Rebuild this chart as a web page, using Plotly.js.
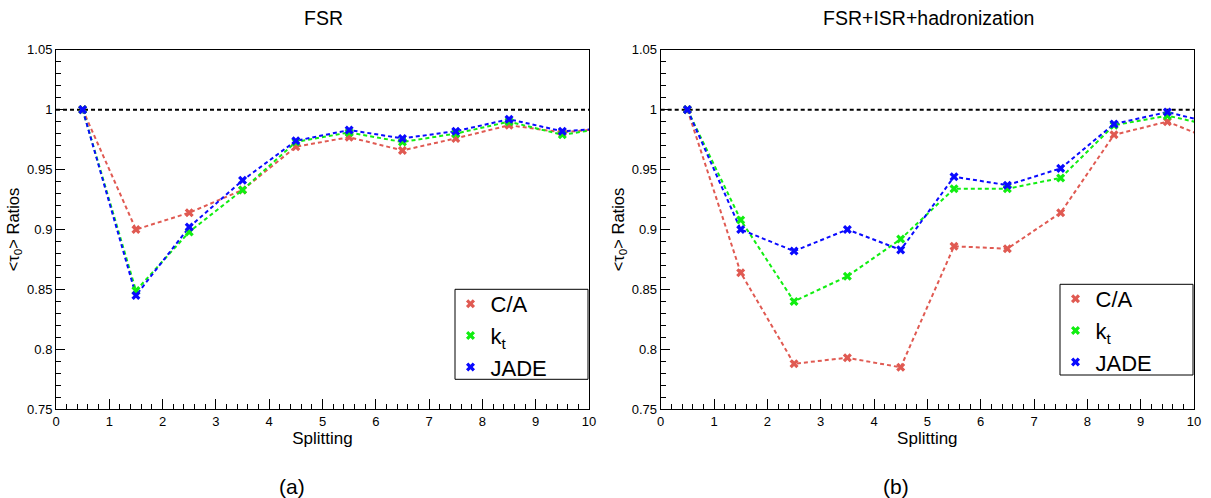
<!DOCTYPE html>
<html>
<head>
<meta charset="utf-8">
<script src="https://cdn.plot.ly/plotly-3.0.1.min.js"></script>
<style>html,body{margin:0;padding:0;background:#fff}#chart{width:1211px;height:498px}</style>
</head>
<body>
<div id="chart"></div>
<script>
// ---- data ----
const splitting = [0.5, 1.5, 2.5, 3.5, 4.5, 5.5, 6.5, 7.5, 8.5, 9.5, 10.5];

const seriesNames = ["C/A", "k<sub>t</sub>", "JADE"];

// (a) FSR
const fsrCA   = [1, 0.900, 0.914, 0.933, 0.969, 0.977, 0.966, 0.976, 0.987, 0.981, 0.985];
const fsrKt   = [1, 0.849, 0.898, 0.933, 0.973, 0.981, 0.973, 0.980, 0.990, 0.979, 0.986];
const fsrJADE = [1, 0.845, 0.902, 0.941, 0.974, 0.983, 0.976, 0.982, 0.992, 0.982, 0.985];

// (b) FSR+ISR+hadronization
const fullCA   = [1, 0.864, 0.788, 0.793, 0.785, 0.886, 0.884, 0.914, 0.979, 0.990, 0.972];
const fullKt   = [1, 0.908, 0.840, 0.861, 0.892, 0.934, 0.934, 0.943, 0.987, 0.995, 0.985];
const fullJADE = [1, 0.900, 0.882, 0.900, 0.883, 0.944, 0.937, 0.951, 0.988, 0.998, 0.987];

const panelTitles = ["FSR", "FSR+ISR+hadronization"];
const panelLabels = ["(a)", "(b)"];
const xTitle = "Splitting";
const yTitle = "&lt;τ<sub>0</sub>&gt; Ratios";
const xRange = [0, 10];
const yRange = [0.75, 1.05];
const referenceLevel = [1, 1];

// ---- styling ----
const colors = ["#e05a52", "#11ee11", "#0a0aff"];
const FONT = "Liberation Sans, Arial, Helvetica, sans-serif";
const W = 1211, H = 498;
const px = v => v / W, py = v => 1 - v / H;

const traces = [];
function addPanel(ys, xa, ya, legendName) {
  traces.push({x: xRange, y: referenceLevel, xaxis: xa, yaxis: ya, mode: "lines",
    line: {color: "#000", width: 2, dash: "4px,3px"}, showlegend: false, hoverinfo: "skip"});
  ys.forEach((y, i) => {
    traces.push({x: splitting, y: y, xaxis: xa, yaxis: ya, mode: "lines",
      line: {color: colors[i], width: 2, dash: "4px,3px"}, showlegend: false, hoverinfo: "skip"});
  });
  ys.forEach((y, i) => {
    traces.push({x: splitting, y: y, xaxis: xa, yaxis: ya, mode: "markers", name: seriesNames[i],
      legend: legendName,
      marker: {symbol: "x", size: 8, color: colors[i]}, cliponaxis: true});
  });
}
addPanel([fsrCA, fsrKt, fsrJADE], "x", "y", "legend");
addPanel([fullCA, fullKt, fullJADE], "x2", "y2", "legend2");

const yDomain = [py(409.3), py(49.7)];
function xAxis(domain, anchor) {
  return {domain: domain, anchor: anchor, range: xRange, dtick: 1, tick0: 0,
    ticks: "inside", ticklen: 10, tickwidth: 1, tickcolor: "#000",
    minor: {dtick: 0.2, ticks: "inside", ticklen: 5, tickcolor: "#000", showgrid: false},
    showline: true, linecolor: "#000", linewidth: 1, mirror: true, showgrid: false, zeroline: false,
    tickfont: {family: FONT, size: 13, color: "#000"},
    title: {text: xTitle, font: {family: FONT, size: 17, color: "#000"}, standoff: 1}};
}
function yAxis(anchor) {
  return {domain: yDomain, anchor: anchor, range: yRange, dtick: 0.05, tick0: 0.75,
    ticks: "inside", ticklen: 9, tickwidth: 1, tickcolor: "#000",
    minor: {dtick: 0.01, ticks: "inside", ticklen: 5, tickcolor: "#000", showgrid: false},
    showline: true, linecolor: "#000", linewidth: 1, mirror: true, showgrid: false, zeroline: false,
    tickfont: {family: FONT, size: 13, color: "#000"},
    title: {text: yTitle, font: {family: FONT, size: 16.5, color: "#000"}, standoff: 3}};
}

const legendCommon = {bgcolor: "rgba(0,0,0,0)", borderwidth: 0, font: {family: FONT, size: 22, color: "#000"},
  xanchor: "left", yanchor: "top", tracegroupgap: 0, itemclick: false};

function ann(text, x, y, size) {
  return {text: text, xref: "paper", yref: "paper", x: px(x), y: py(y), xanchor: "center", yanchor: "middle",
    showarrow: false, font: {family: FONT, size: size, color: "#000"}};
}

const layout = {
  width: W, height: H, margin: {l: 0, r: 0, t: 0, b: 0},
  paper_bgcolor: "#fff", plot_bgcolor: "#fff",
  font: {family: FONT, color: "#000"},
  xaxis: xAxis([px(56), px(589)], "y"),
  yaxis: yAxis("x"),
  xaxis2: xAxis([px(660.7), px(1194)], "y2"),
  yaxis2: yAxis("x2"),
  legend: Object.assign({x: px(450.5), y: py(283)}, legendCommon),
  legend2: Object.assign({x: px(1055.5), y: py(278)}, legendCommon),
  shapes: [
    {type: "rect", xref: "paper", yref: "paper", x0: px(455), x1: px(588), y0: py(379.3), y1: py(289.3),
     line: {color: "#000", width: 1}, fillcolor: "#fff", layer: "below"},
    {type: "rect", xref: "paper", yref: "paper", x0: px(1060), x1: px(1193), y0: py(375), y1: py(284.3),
     line: {color: "#000", width: 1}, fillcolor: "#fff", layer: "below"}
  ],
  annotations: [
    ann(panelTitles[0], 323, 18, 19.5),
    ann(panelTitles[1], 928, 18, 19.5),
    ann(panelLabels[0], 292, 486, 21),
    ann(panelLabels[1], 896, 486, 21)
  ],
  showlegend: true
};

Plotly.newPlot("chart", traces, layout, {displayModeBar: false, staticPlot: true});
</script>
</body>
</html>
